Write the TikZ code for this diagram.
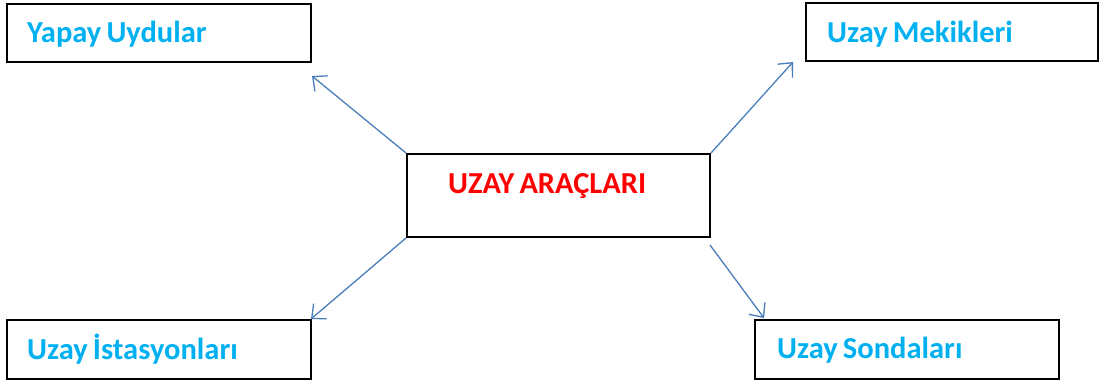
\documentclass[tikz,border=0pt]{standalone}
\usepackage{fontspec}
\setmainfont{Carlito}[WordSpace=0.75]
\usetikzlibrary{arrows.meta}
\definecolor{txtblue}{HTML}{00B0F0}
\definecolor{arrblue}{HTML}{4A7EBB}
\begin{document}
\begin{tikzpicture}[x=1pt,y=-1pt,
  box/.style={draw=black,line width=2pt,minimum width=304pt,minimum height=58pt,inner sep=0pt},
  boxtext/.style={anchor=base west,inner sep=0pt,font=\bfseries\fontsize{30.5}{35}\selectfont,text=txtblue},
  mainbox/.style={draw=black,line width=2pt,minimum width=303pt,minimum height=83pt,inner sep=0pt},
  maintext/.style={anchor=base west,font=\bfseries\fontsize{30.5}{35}\selectfont,text=red,inner sep=0pt},
  conn/.style={draw=arrblue,line width=1.3pt,-{Straight Barb[length=11pt,width=20pt]}}]
\useasboundingbox (0,0) rectangle (1099,385);
\node[box] (yu) at (159,33) {};
\node[boxtext] (yut) at ([xshift=21pt,yshift=-10pt]yu.west) {Yapay Uydular};
\node[box,minimum width=292pt] (um) at (952,32.5) {};
\node[boxtext] (umt) at ([xshift=22pt,yshift=-10.5pt]um.west) {Uzay Mekikleri};
\node[box,minimum height=59pt] (ui) at (159,349.5) {};
\node[boxtext] (uit) at ([xshift=21pt,yshift=-9.5pt]ui.west) {Uzay İstasyonları};
\node[box,minimum height=59pt] (us) at (907,349.5) {};
\node[boxtext] (ust) at ([xshift=23pt,yshift=-8.5pt]us.west) {Uzay Sondaları};
\node[mainbox] (ctr) at (558.5,195.5) {};
\node[maintext] (ctrtext) at (448,193) {UZAY ARAÇLARI};
\coordinate (t1) at (312,76);
\coordinate (t2) at (793,62);
\coordinate (t3) at (311,319);
\coordinate (t4) at (764,318);
\coordinate (s4) at (710,245);
\draw[conn] (ctr.north west) -- (t1);
\draw[conn] (ctr.north east) -- (t2);
\draw[conn] (ctr.south west) -- (t3);
\draw[conn] (s4) -- (t4);
\end{tikzpicture}
\end{document}
